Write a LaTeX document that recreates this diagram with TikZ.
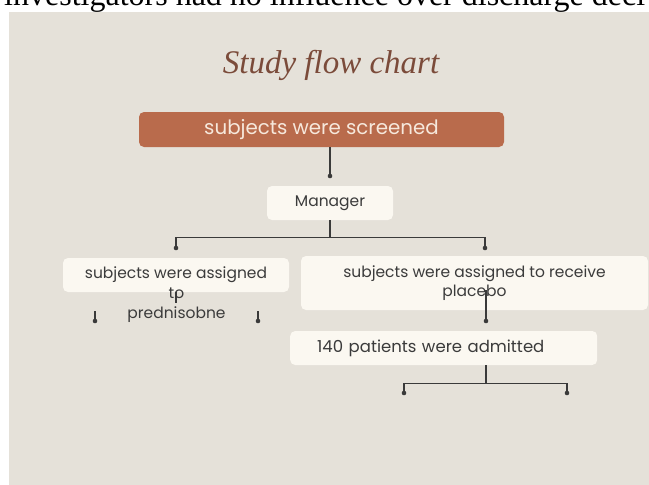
\documentclass[tikz,border=0pt]{standalone}
\usepackage{fontspec}
\setmainfont{Poppins}
\newfontfamily\serifcut{Liberation Serif}
\usetikzlibrary{positioning}
\definecolor{paper}{HTML}{E5E1D9}
\definecolor{cream}{HTML}{FBF8F1}
\definecolor{rust}{HTML}{B96B4C}
\definecolor{rustink}{HTML}{F6E8DC}
\definecolor{titlebrown}{HTML}{7B4B3A}
\definecolor{inkgray}{HTML}{3B3B3B}
\definecolor{linkgray}{HTML}{3A3A3A}

\begin{document}
\begin{tikzpicture}[x=1pt,y=-1pt,
  card/.style={fill=cream,rounded corners=5pt,inner sep=0pt,text=inkgray},
  link/.style={draw=linkgray,line width=1.4pt},
  boxfont/.style={font=\fontsize{15.5}{19.5}\selectfont}]
  \clip (0,0) rectangle (649,485);
  \fill[white] (0,0) rectangle (649,485);
  \fill[paper] (9,12) rectangle (649,485);
  \node[anchor=base west,inner sep=0pt,font=\serifcut\fontsize{32}{32}\selectfont] (cutline) at (4,5)
    {investigators had no influence over discharge deci};

  \node[font=\serifcut\itshape\fontsize{33}{33}\selectfont,text=titlebrown] (title) at (331,65) {Study flow chart};

  \node[fill=rust,rounded corners=5pt,minimum width=365pt,minimum height=35pt,
        text=rustink,font=\fontsize{19.8}{19.8}\selectfont] (screen) at (321.5,129.5) {subjects were screened};
  \node[card,boxfont,minimum width=126pt,minimum height=34pt] (mgr) at (330,203) {Manager};
  \node[card,boxfont,minimum width=226pt,minimum height=34pt] (assignA) at (176,275) {subjects were assigned};
  \node[boxfont,text=inkgray,align=center,inner sep=0pt] (assignAtail) at (176.5,305) {to\\prednisobne};
  \node[card,boxfont,minimum width=347pt,minimum height=54pt,align=center] (assignB) at (474.5,283)
    {subjects were assigned to receive\\placebo};
  \node[card,anchor=west,text width=253pt,inner xsep=27pt,minimum height=34pt,
        font=\fontsize{16.5}{16.5}\selectfont] (admit) at (290,348) {140 patients were admitted};

  \coordinate (d0) at (330,176);
  \coordinate (dl) at (176,248);
  \coordinate (dr) at (485,248);
  \coordinate (ad) at (486,321);
  \coordinate (la) at (95,321);
  \coordinate (ra) at (258,321);
  \coordinate (bl) at (404,393);
  \coordinate (br) at (567,393);

  \draw[link] (screen.south -| d0) -- (d0);
  \draw[link] (mgr.south) -- ++(0,17) -| (dl);
  \draw[link] (mgr.south) -- ++(0,17) -| (dr);
  \draw[link] (assignA.south) -- ++(0,11);
  \draw[link] (la) -- ++(0,-10);
  \draw[link] (ra) -- ++(0,-10);
  \draw[link] (ad) -- ++(0,-31);
  \draw[link] (admit.south -| ad) -- ++(0,18) -| (bl);
  \draw[link] (admit.south -| ad) -- ++(0,18) -| (br);
  \foreach \d in {d0,dl,dr,ad,la,ra,bl,br}
    \fill[linkgray] (\d) circle (2.3pt);
\end{tikzpicture}
\end{document}
